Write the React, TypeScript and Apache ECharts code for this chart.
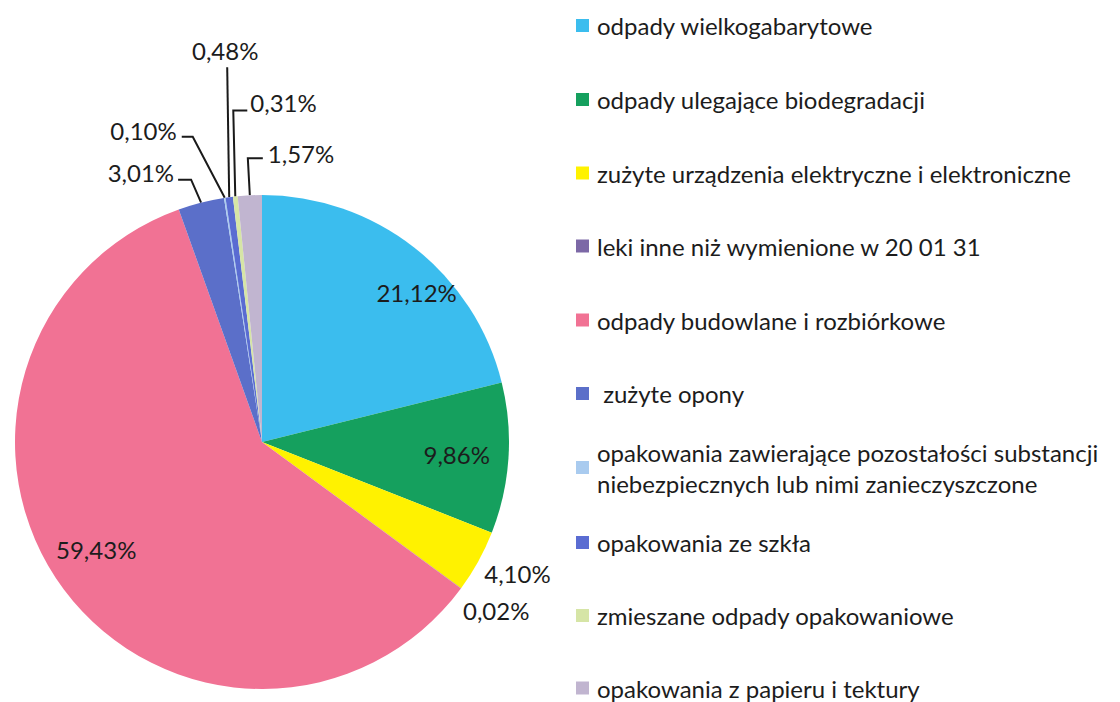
import React, { useEffect, useRef } from 'react';
import * as echarts from 'echarts';

const categories = [
  'odpady wielkogabarytowe',
  'odpady ulegające biodegradacji',
  'zużyte urządzenia elektryczne i elektroniczne',
  'leki inne niż wymienione w 20 01 31',
  'odpady budowlane i rozbiórkowe',
  ' zużyte opony',
  'opakowania zawierające pozostałości substancji niebezpiecznych lub nimi zanieczyszczone',
  'opakowania ze szkła',
  'zmieszane odpady opakowaniowe',
  'opakowania z papieru i tektury',
];
const shares = [21.12, 9.86, 4.1, 0.02, 59.43, 3.01, 0.1, 0.48, 0.31, 1.57];
const colors = [
  '#3BBDEE', '#15A05E', '#FFF200', '#7C68A6', '#F17294',
  '#5B6FC9', '#A9CBEF', '#5A6CD2', '#D6E5A6', '#C1B5D0',
];

// layout
const CX = 262;
const CY = 442;
const R = 247;
const FONT = 'Lato';
const FS = 24;
const TEXT = '#1c1c1c';
const legendCenters = [25.5, 99.5, 173, 246, 320, 393.5, 467.5, 542.5, 615.5, 688];

type Place =
  | { kind: 'in'; r: number; dAngle: number }
  | { kind: 'out'; line: number[][]; align: string; vAlign: string; dx: number; dy: number };

const placements: Place[] = [
  { kind: 'in', r: 0.87, dAngle: -8 },
  { kind: 'in', r: 0.79, dAngle: 0 },
  { kind: 'out', line: [], align: 'left', vAlign: 'middle', dx: 6, dy: 12 },
  { kind: 'out', line: [], align: 'left', vAlign: 'middle', dx: 2, dy: 22 },
  { kind: 'in', r: 0.8, dAngle: -3.7 },
  { kind: 'out', line: [[-10, -23], [-23, -23]], align: 'right', vAlign: 'middle', dx: -4, dy: -7 },
  { kind: 'out', line: [[-32, -61], [-43, -61]], align: 'right', vAlign: 'middle', dx: -5, dy: -6 },
  { kind: 'out', line: [[-2, -130]], align: 'center', vAlign: 'middle', dx: -2, dy: -17 },
  { kind: 'out', line: [[-2, -86], [12, -86]], align: 'left', vAlign: 'middle', dx: 3, dy: -8 },
  { kind: 'out', line: [[-2, -37], [13, -37]], align: 'left', vAlign: 'middle', dx: 5, dy: -5 },
];

const total = shares.reduce((a, b) => a + b, 0);
function midAngle(i: number): number {
  let cum = 0;
  for (let k = 0; k < i; k++) cum += shares[k];
  const f = (cum + shares[i] / 2) / total;
  return Math.PI / 2 - 2 * Math.PI * f;
}

export default function App() {
  const ref = useRef<HTMLDivElement>(null);
  useEffect(() => {
    document.body.style.margin = '0';
    if (!ref.current) return;
    const chart = echarts.init(ref.current, undefined, { renderer: 'svg' });
    const twoLine = categories[6];
    chart.setOption({
      animation: false,
      backgroundColor: '#ffffff',
      color: colors,
      legend: categories.map((name, i) => {
        const multi = name === twoLine;
        const lh = multi ? 31 : 28;
        return {
          orient: 'vertical',
          left: 576,
          top: multi ? legendCenters[i] - 46.5 : legendCenters[i] - lh / 2,
          padding: 0,
          itemWidth: 13,
          itemHeight: 13,
          icon: 'rect',
          selectedMode: false,
          data: [name],
          formatter: (n: string) =>
            n === twoLine
              ? 'opakowania zawierające pozostałości substancji\nniebezpiecznych lub nimi zanieczyszczone'
              : n,
          textStyle: {
            fontFamily: FONT,
            fontSize: FS,
            color: TEXT,
            lineHeight: lh,
            padding: multi ? [31, 0, 0, 3] : [0, 0, 0, 3],
          },
        };
      }),
      series: [
        {
          type: 'pie',
          center: [CX, CY],
          radius: R,
          startAngle: 90,
          clockwise: true,
          avoidLabelOverlap: false,
          minAngle: 0,
          itemStyle: { borderWidth: 0 },
          emphasis: { disabled: true },
          label: {
            fontFamily: FONT,
            fontSize: FS,
            color: TEXT,
            formatter: (p: any) => p.value.toFixed(2).replace('.', ',') + '%',
          },
          labelLine: {
            lineStyle: { color: '#1a1a1a', width: 2 },
          },
          labelLayout: (params: any) => {
            const i = params.dataIndex;
            const p = placements[i];
            const theta = midAngle(i);
            if (p.kind === 'in') {
              const t = theta + (p.dAngle * Math.PI) / 180;
              return {
                x: CX + p.r * R * Math.cos(t),
                y: CY - p.r * R * Math.sin(t),
                align: 'center',
                verticalAlign: 'middle',
              };
            }
            const ax = CX + R * Math.cos(theta);
            const ay = CY - R * Math.sin(theta);
            const pts = [[ax, ay], ...p.line.map(([dx, dy]) => [ax + dx, ay + dy])];
            const last = pts[pts.length - 1];
            const res: any = {
              x: last[0] + p.dx,
              y: last[1] + p.dy,
              align: p.align,
              verticalAlign: p.vAlign,
            };
            if (p.line.length) res.labelLinePoints = pts;
            return res;
          },
          data: categories.map((name, i) => {
            const p = placements[i];
            const out = p.kind === 'out';
            return {
              name,
              value: shares[i],
              label: { position: out ? 'outside' : 'inside' },
              labelLine: { show: out && (p as any).line.length > 0 },
            };
          }),
        },
      ],
    });
    return () => chart.dispose();
  }, []);
  return <div ref={ref} style={{ width: 1120, height: 702 }} />;
}
